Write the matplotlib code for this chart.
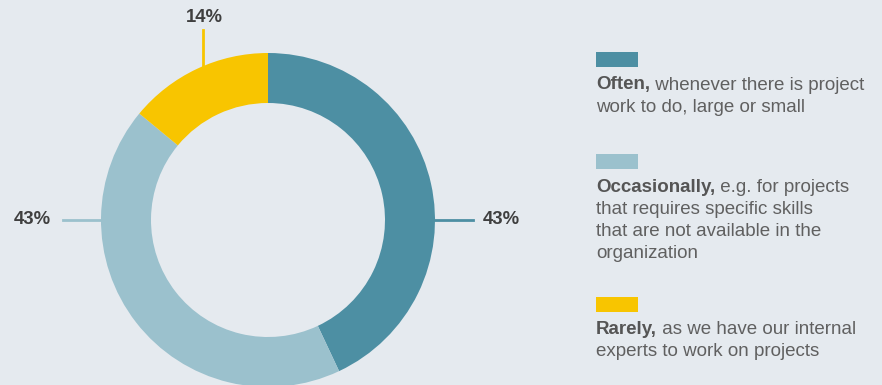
import numpy as np
import matplotlib
matplotlib.use("Agg")
import matplotlib.pyplot as plt

# data
categories = ["Often", "Occasionally", "Rarely"]
values = [43, 43, 14]
pct_labels = ["43%", "43%", "14%"]
legend_rest = [
    " whenever there is project\nwork to do, large or small",
    " e.g. for projects\nthat requires specific skills\nthat are not available in the\norganization",
    " as we have our internal\nexperts to work on projects",
]
colors = ["#4d8fa3", "#9bc1cd", "#f8c500"]

bg = "#e5eaef"
plt.rcParams["font.family"] = ["Liberation Sans", "DejaVu Sans"]

W, H = 882, 385
fig = plt.figure(figsize=(W / 100, H / 100), dpi=100, facecolor=bg)
ax = fig.add_axes([0, 0, 1, 1])
ax.set_facecolor(bg)

cx, cy, R = 268, H - 220, 167
wedges, _ = ax.pie(values, colors=colors, startangle=90, counterclock=False,
                   radius=R, center=(cx, cy),
                   wedgeprops=dict(width=50, linewidth=0))
ax.set_xlim(0, W)
ax.set_ylim(0, H)
ax.set_aspect("auto")
ax.axis("off")

# leader lines + percentage labels
pcol = "#3f3f3f"
# Often -> right
ax.plot([cx + R, cx + R + 38], [cy, cy], color=colors[0], lw=2)
ax.text(cx + R + 48, cy, pct_labels[0], ha="left", va="center",
        fontsize=13.3, fontweight="bold", color=pcol)
# Occasionally -> left
ax.plot([cx - R, cx - R - 38], [cy, cy], color=colors[1], lw=2)
ax.text(cx - R - 50, cy, pct_labels[1], ha="right", va="center",
        fontsize=13.3, fontweight="bold", color=pcol)
# Rarely -> top
lx = 203
ly = cy + np.sqrt(R ** 2 - (lx - cx) ** 2)
ax.plot([lx, lx], [ly, H - 30], color=colors[2], lw=2)
ax.text(lx + 1, H - 17, pct_labels[2], ha="center", va="center",
        fontsize=13.3, fontweight="bold", color=pcol)

# legend
swatch_y = [52, 154, 297]
fs = 13.5
fig.canvas.draw()
renderer = fig.canvas.get_renderer()
for i in range(3):
    y0 = H - swatch_y[i]
    ax.add_patch(plt.Rectangle((596, y0 - 15), 42, 15, color=colors[i], lw=0))
    ty = y0 - 33
    bt = ax.text(596, ty, categories[i] + ",", ha="left", va="center",
                 fontsize=fs, fontweight="bold", color="#555555")
    bb = bt.get_window_extent(renderer)
    lines = legend_rest[i].split("\n")
    ax.text(bb.x1, ty, lines[0], ha="left", va="center",
            fontsize=fs, color="#606060")
    for k, ln in enumerate(lines[1:]):
        ax.text(596, ty - 22 * (k + 1), ln, ha="left", va="center",
                fontsize=fs, color="#606060")

fig.savefig("out.png", dpi=100, facecolor=bg)
